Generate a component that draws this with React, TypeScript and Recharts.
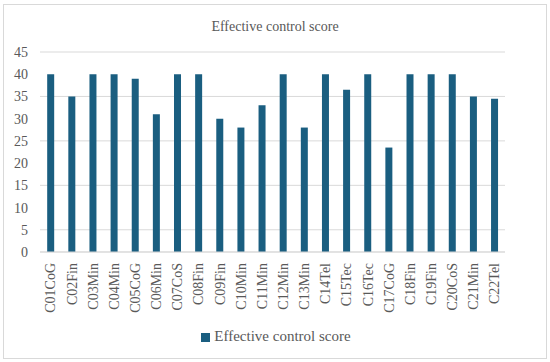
import { BarChart, Bar, XAxis, YAxis, CartesianGrid, Legend } from 'recharts';

// Data
const categories = [
  'C01CoG', 'C02Fin', 'C03Min', 'C04Min', 'C05CoG', 'C06Min', 'C07CoS', 'C08Fin',
  'C09Fin', 'C10Min', 'C11Min', 'C12Min', 'C13Min', 'C14Tel', 'C15Tec', 'C16Tec',
  'C17CoG', 'C18Fin', 'C19Fin', 'C20CoS', 'C21Min', 'C22Tel',
];
const scores = [40, 35, 40, 40, 39, 31, 40, 40, 30, 28, 33, 40, 28, 40, 36.5, 40, 23.5, 40, 40, 40, 35, 34.5];
const yTicks = [0, 5, 10, 15, 20, 25, 30, 35, 40, 45];

const seriesName = 'Effective control score';
const barColor = '#1a5e80';
const textColor = '#595959';
const fontFamily = "'Liberation Serif', 'DejaVu Serif', serif";

const chartData = categories.map((c, i) => ({ name: c, score: scores[i] }));

// rotated category label, reads bottom to top
const RotatedTick = ({ x, y, payload }: any) => (
  <text
    transform={`translate(${x},${y}) rotate(-90)`}
    textAnchor="end"
    dy="0.35em"
    fill={textColor}
    style={{ fontSize: 14, fontFamily }}
  >
    {payload.value}
  </text>
);

export default function App() {
  return (
    <div style={{ position: 'absolute', left: 0, top: 0, width: 550, height: 362, background: '#fff', fontFamily }}>
      <div
        style={{
          position: 'absolute', left: 3, top: 4, width: 542, height: 353,
          border: '1px solid #d9d9d9',
        }}
      />
      <div
        style={{
          position: 'absolute', left: 0, top: 19, width: 550, textAlign: 'center',
          fontSize: 14, color: textColor,
        }}
      >
        {seriesName}
      </div>
      <div style={{ position: 'absolute', left: 0, top: 0 }}>
        <BarChart
          width={550}
          height={362}
          data={chartData}
          margin={{ top: 52, right: 45, left: 0, bottom: 17 }}
          barCategoryGap="34%"
          style={{ fontFamily }}
        >
          <CartesianGrid vertical={false} stroke="#d9d9d9" />
          <XAxis
            dataKey="name"
            interval={0}
            height={76}
            axisLine={{ stroke: '#d9d9d9' }}
            tickLine={false}
            tick={<RotatedTick />}
            tickMargin={5}
          />
          <YAxis
            width={40}
            domain={[0, 45]}
            ticks={yTicks}
            axisLine={false}
            tickLine={false}
            tickMargin={6}
            tick={{ fill: textColor, fontSize: 14, style: { fontFamily } }}
          />
          <Legend
            verticalAlign="bottom"
            iconType="square"
            iconSize={9}
            wrapperStyle={{ fontFamily, fontSize: 15, left: 6, width: 550 }}
            formatter={(v: string) => <span style={{ color: textColor, fontFamily }}>{v}</span>}
          />
          <Bar dataKey="score" name={seriesName} fill={barColor} isAnimationActive={false} />
        </BarChart>
      </div>
    </div>
  );
}
